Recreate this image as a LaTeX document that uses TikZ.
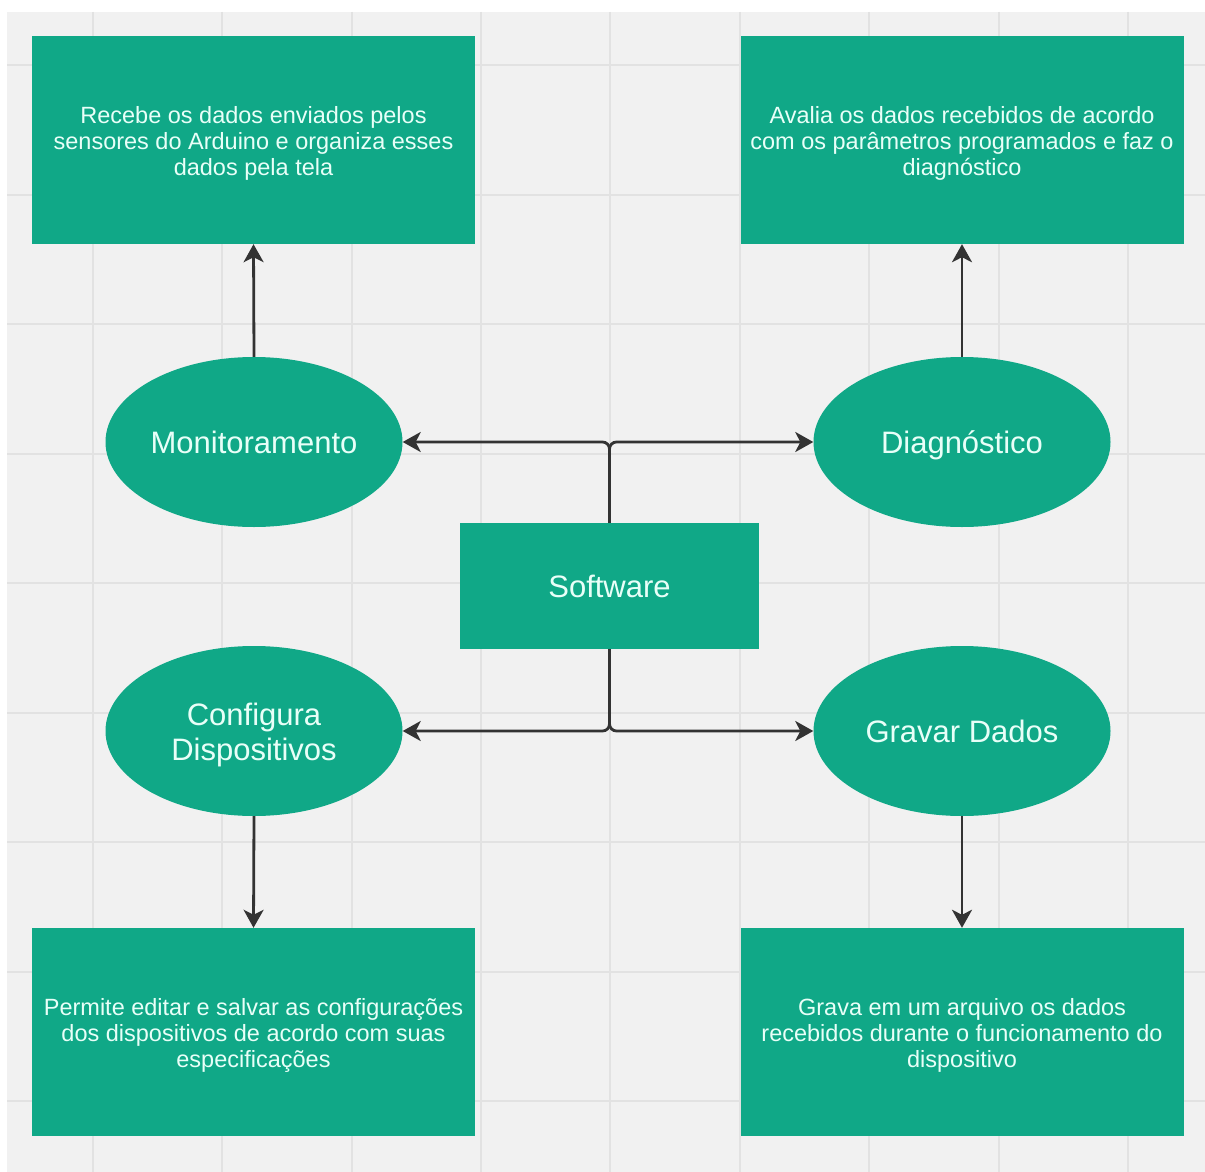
\documentclass[tikz,border=0pt]{standalone}
\usepackage{fontspec}
\setmainfont{Liberation Sans}
\usetikzlibrary{arrows.meta,shapes.geometric}
\definecolor{teal1}{HTML}{10A887}
\definecolor{txt}{HTML}{E8FFF8}
\definecolor{bgg}{HTML}{F1F1F1}
\definecolor{gridc}{HTML}{E2E2E2}
\definecolor{linec}{HTML}{333333}
\newcommand{\toppad}{\rule{0pt}{23pt}}
\tikzset{
  infobox/.style={fill=teal1, draw=none, minimum width=443pt, minimum height=208pt, text=txt, align=center, font=\fontsize{23.5}{26}\selectfont, inner sep=0pt},
  oval/.style={ellipse, fill=teal1, draw=none, minimum width=297pt, minimum height=170pt, text=txt, align=center, font=\fontsize{31}{35}\selectfont, inner sep=0pt},
  oneline/.style={text height=25pt, text depth=3pt},
  ovaltext/.style={text=txt, align=center, font=\fontsize{31}{35}\selectfont, inner sep=0pt},
  swbox/.style={fill=teal1, draw=none, minimum width=299pt, minimum height=126pt, text=txt, font=\fontsize{31}{35}\selectfont, inner sep=0pt, text height=25pt, text depth=3pt},
  conn/.style={draw=linec, line width=2.8pt, -{Stealth[length=18pt,width=20pt,inset=5pt]}, rounded corners=7pt},
}
\begin{document}
\begin{tikzpicture}[x=1pt,y=-1pt]
\useasboundingbox (0,0) rectangle (1205,1172);
\fill[white] (0,0) rectangle (1205,1172);
\fill[bgg] (7,12) rectangle (1205,1172);
\foreach \gx in {93,222,352,481,610,740,869,999,1128}
  \draw[gridc, line width=1.6pt] (\gx,12) -- (\gx,1172);
\foreach \gy in {65,195,324,454,583,713,842,972,1101}
  \draw[gridc, line width=1.6pt] (7,\gy) -- (1205,\gy);

\node[infobox] (b1) at (253.5,140) {\toppad Recebe os dados enviados pelos\\sensores do Arduino e organiza esses\\dados pela tela};
\node[infobox] (b2) at (962,140) {\toppad Avalia os dados recebidos de acordo\\com os parâmetros programados e faz o\\diagnóstico};
\node[infobox] (b3) at (253.5,1032) {\toppad Permite editar e salvar as configurações\\dos dispositivos de acordo com suas\\especificações};
\node[infobox] (b4) at (962,1032) {\toppad Grava em um arquivo os dados\\recebidos durante o funcionamento do\\dispositivo};

\node[oval, oneline] (mon) at (254,442) {Monitoramento};
\node[oval, oneline] (dia) at (962,442) {Diagnóstico};
\node[oval] (cfg) at (254,731) {};
\node[ovaltext] (cfgt) at (254,735) {Configura\\Dispositivos};
\node[oval, oneline] (grv) at (962,731) {Gravar Dados};

\node[swbox] (sw) at (609.5,586) {Software};

\draw[conn] (mon.north) -- (b1.south);
\draw[conn] (dia.north) -- (b2.south);
\draw[conn] (cfg.south) -- (b3.north);
\draw[conn] (grv.south) -- (b4.north);

\draw[conn] (sw.north) |- (mon.east);
\draw[conn] (sw.north) |- (dia.west);
\draw[conn] (sw.south) |- (cfg.east);
\draw[conn] (sw.south) |- (grv.west);
\end{tikzpicture}
\end{document}
